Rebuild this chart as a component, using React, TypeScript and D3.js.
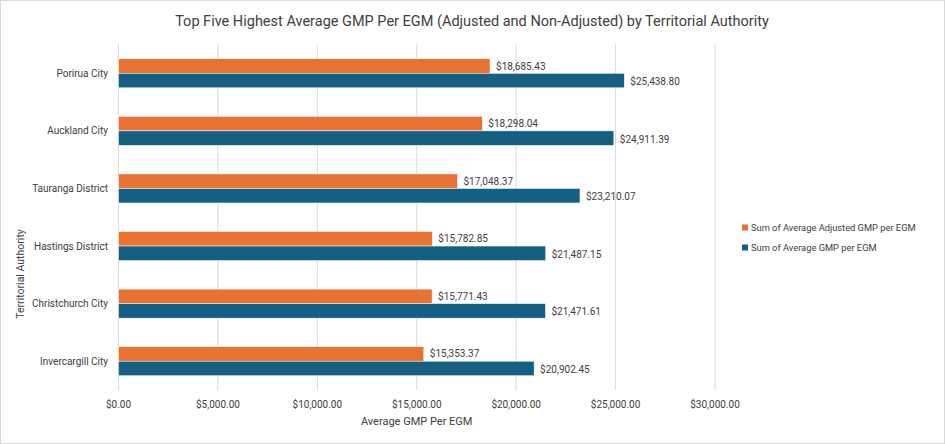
import React from 'react';
import * as d3 from 'd3';

const categories = [
  'Porirua City',
  'Auckland City',
  'Tauranga District',
  'Hastings District',
  'Christchurch City',
  'Invercargill City',
];
const adjustedGmp = [18685.43, 18298.04, 17048.37, 15782.85, 15771.43, 15353.37];
const averageGmp = [25438.8, 24911.39, 23210.07, 21487.15, 21471.61, 20902.45];
const xTicks = [0, 5000, 10000, 15000, 20000, 25000, 30000];
const seriesNames = ['Sum of Average Adjusted GMP per EGM', 'Sum of Average GMP per EGM'];

const W = 945;
const H = 444;
const FONT = 'Roboto, "Noto Sans", sans-serif';
const ORANGE = '#E97132';
const BLUE = '#156082';

const money = (v: number) => '$' + d3.format(',.2f')(v);

const App: React.FC = () => {
  const x = d3.scaleLinear().domain([0, 30000]).range([118.5, 715]);
  const y = d3.scaleBand<string>().domain(categories).range([44.5, 390]);
  const barH = y.bandwidth() * 0.252;

  return (
    <svg
      width={W}
      height={H}
      style={{ position: 'absolute', left: 0, top: 0, fontFamily: FONT }}
    >
      <rect x={0.5} y={0.5} width={W - 1} height={H - 1} fill="white" stroke="#d9d9d9" />
      <text x={472} y={26} textAnchor="middle" fontSize={14.5} fill="#404040">
        Top Five Highest Average GMP Per EGM (Adjusted and Non-Adjusted) by Territorial Authority
      </text>

      {/* grid */}
      {xTicks.map(t => (
        <g key={t}>
          <line x1={x(t)} x2={x(t)} y1={y.range()[0]} y2={y.range()[1]} stroke="#d9d9d9" />
          <text x={x(t)} y={408} textAnchor="middle" fontSize={10} fill="#404040">
            {money(t)}
          </text>
        </g>
      ))}

      {/* bars */}
      {categories.map((c, i) => {
        const mid = (y(c) ?? 0) + y.bandwidth() / 2;
        return (
          <g key={c}>
            <text x={108} y={mid} dy="0.35em" textAnchor="end" fontSize={10} fill="#404040">
              {c}
            </text>
            <rect
              x={x(0)}
              y={mid - barH}
              width={x(adjustedGmp[i]) - x(0)}
              height={barH}
              fill={ORANGE}
              stroke="white"
              strokeWidth={0.5}
            />
            <rect
              x={x(0)}
              y={mid}
              width={x(averageGmp[i]) - x(0)}
              height={barH}
              fill={BLUE}
              stroke="white"
              strokeWidth={0.5}
            />
            <text x={x(adjustedGmp[i]) + 6} y={mid - barH / 2} dy="0.35em" fontSize={10} fill="#404040">
              {money(adjustedGmp[i])}
            </text>
            <text x={x(averageGmp[i]) + 6} y={mid + barH / 2 + 1} dy="0.35em" fontSize={10} fill="#404040">
              {money(averageGmp[i])}
            </text>
          </g>
        );
      })}

      <text x={416.7} y={425} textAnchor="middle" fontSize={11} fill="#404040">
        Average GMP Per EGM
      </text>
      <text
        transform="translate(24,274) rotate(-90)"
        textAnchor="middle"
        fontSize={10.5}
        fill="#404040"
      >
        Territorial Authority
      </text>

      {/* legend */}
      {seriesNames.map((s, i) => (
        <g key={s} transform={`translate(742,${227.5 + i * 20})`}>
          <rect x={0} y={-3} width={6} height={6} fill={i === 0 ? ORANGE : BLUE} />
          <text x={9} y={0} dy="0.35em" fontSize={9.3} fill="#404040">
            {s}
          </text>
        </g>
      ))}
    </svg>
  );
};

export default App;
